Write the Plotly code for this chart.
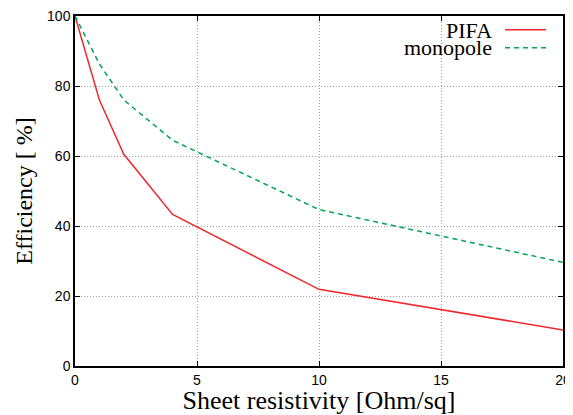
import plotly.graph_objects as go

resistivity = [0, 1, 2, 4, 10, 20]
pifa = [100, 76, 60.5, 43.3, 21.9, 10.3]
monopole = [100, 86.3, 76, 64.5, 44.7, 29.6]
x_ticks = [0, 5, 10, 15, 20]
y_ticks = [0, 20, 40, 60, 80, 100]

RED = "#ec2a2e"
GREEN = "#00a651"

fig = go.Figure()
fig.add_trace(go.Scatter(x=resistivity, y=pifa, mode="lines", name="PIFA",
                         line=dict(color=RED, width=1.5)))
fig.add_trace(go.Scatter(x=resistivity, y=monopole, mode="lines", name="monopole",
                         line=dict(color=GREEN, width=1.5, dash="5px,4px")))

axis_common = dict(
    showline=True, linecolor="black", linewidth=1.5, mirror="ticks",
    ticks="inside", ticklen=5, tickcolor="black", tickwidth=1,
    showgrid=True, gridcolor="#a0a0a0", griddash="1px,2px", gridwidth=1,
    zeroline=False, automargin=False, ticklabeloverflow="allow",
    tickfont=dict(family="Liberation Sans, Arial, sans-serif", size=14, color="black"),
)

fig.update_xaxes(range=[0, 20], tickvals=x_ticks, **axis_common,
                 title=dict(text="Sheet resistivity [Ohm/sq]", standoff=0,
                            font=dict(family="Liberation Serif, Times New Roman, serif",
                                      size=26, color="black")))
fig.update_yaxes(range=[0, 100], tickvals=y_ticks, **axis_common,
                 title=dict(text="Efficiency [ %]", standoff=8,
                            font=dict(family="Liberation Serif, Times New Roman, serif",
                                      size=24, color="black")))

PW, PH = 488, 350.5  # plot area size in px
X0, Y0 = 75, 15.5    # plot area top-left in page px

legend_font = dict(family="Liberation Serif, Times New Roman, serif", size=22, color="black")
# legend entries: text right-aligned, sample line on the right (gnuplot style)
fig.add_annotation(xref="paper", yref="paper", x=(493 - X0) / PW, y=1 - (30 - Y0) / PH,
                   xanchor="right", yanchor="middle", text="PIFA", showarrow=False,
                   font=legend_font, borderpad=0)
fig.add_annotation(xref="paper", yref="paper", x=(493 - X0) / PW, y=1 - (47.5 - Y0) / PH,
                   xanchor="right", yanchor="middle", text="monopole", showarrow=False,
                   font=legend_font, borderpad=0)
fig.add_shape(type="line", xref="paper", yref="paper",
              x0=(505 - X0) / PW, x1=(546 - X0) / PW,
              y0=1 - (29.3 - Y0) / PH, y1=1 - (29.3 - Y0) / PH,
              line=dict(color=RED, width=1.5))
fig.add_shape(type="line", xref="paper", yref="paper",
              x0=(505 - X0) / PW, x1=(546 - X0) / PW,
              y0=1 - (47.3 - Y0) / PH, y1=1 - (47.3 - Y0) / PH,
              line=dict(color=GREEN, width=1.5, dash="5px,4px"))

# the page body adds an 8px offset, so compensate in size and margins
fig.update_layout(
    width=565, height=407,
    margin=dict(l=67, r=10, t=7.5, b=49),
    paper_bgcolor="white", plot_bgcolor="white",
    showlegend=False,
)

fig.write_html("out.html")
